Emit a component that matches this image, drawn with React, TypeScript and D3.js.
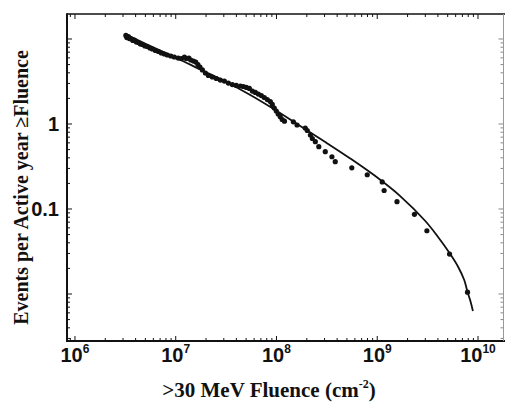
import React from "react";
import * as d3 from "d3";

// Observed events (fluence, events per active year >= fluence)
const fluence = [
  3.2e6, 3.27e6, 3.39e6, 3.47e6, 3.63e6, 3.76e6, 3.89e6, 4.07e6, 4.26e6, 4.46e6,
  4.67e6, 4.94e6, 5.23e6, 5.54e6, 5.86e6, 6.28e6, 6.73e6, 7.2e6, 7.71e6, 8.26e6,
  8.95e6, 9.69e6, 1.06e7, 1.14e7, 1.22e7, 1.27e7, 1.35e7, 1.41e7, 1.5e7, 1.58e7,
  1.66e7, 1.74e7, 1.84e7, 1.97e7, 2.11e7, 2.31e7, 2.53e7, 2.77e7, 3.04e7, 3.33e7,
  3.65e7, 3.99e7, 4.38e7, 4.69e7, 5.02e7, 5.38e7, 5.76e7, 6.17e7, 6.6e7, 7.07e7,
  7.57e7, 8.11e7, 8.69e7, 9.09e7, 9.51e7, 9.96e7, 1.04e8, 1.09e8, 1.14e8, 1.2e8,
  1.47e8, 1.6e8, 1.93e8, 2.02e8, 2.17e8, 2.27e8, 2.43e8, 2.63e8, 3.05e8, 3.55e8,
  3.83e8, 5.59e8, 7.96e8, 1.12e9, 1.17e9, 1.57e9, 2.34e9, 3.11e9, 5.22e9, 7.87e9,
];
const rate = [
  11.0, 10.4, 10.7, 10.1, 10.0, 9.6, 9.73, 9.22, 9.09, 8.73,
  8.61, 8.27, 8.16, 7.83, 7.62, 7.32, 7.13, 6.84, 6.66, 6.48,
  6.31, 6.14, 5.97, 5.89, 6.14, 5.89, 5.97, 5.66, 5.51, 5.36,
  5.01, 4.68, 4.32, 3.98, 3.72, 3.57, 3.43, 3.29, 3.2, 3.03,
  2.91, 2.84, 2.8, 2.76, 2.69, 2.62, 2.44, 2.35, 2.25, 2.16,
  2.05, 1.94, 1.84, 1.7, 1.54, 1.42, 1.31, 1.22, 1.13, 1.08,
  1.06, 0.973, 0.897, 0.838, 0.742, 0.675, 0.619, 0.541, 0.472, 0.412,
  0.36, 0.305, 0.253, 0.208, 0.165, 0.122, 0.0866, 0.0555, 0.0295, 0.0105,
];

// Fitted curve
const fitFluence = [
  3.16e6, 5.6e6, 9.92e6, 1.75e7, 3.11e7, 5.5e7, 9.73e7, 1.72e8, 3.05e8,
  5.4e8, 9.56e8, 1.69e9, 3.0e9, 3.98e9, 5.3e9, 6.36e9, 7.3e9, 7.87e9, 8.43e9, 8.9e9,
];
const fitRate = [
  11.45, 8.27, 6.06, 4.38, 3.16, 2.19, 1.46, 0.947, 0.614,
  0.393, 0.244, 0.142, 0.0722, 0.0475, 0.0295, 0.0208, 0.0146, 0.01055, 0.00816, 0.00631,
];

const xMajorExponents = [6, 7, 8, 9, 10];
const yTickValues = [1, 0.1];
const yTickLabels = ["1", "0.1"];
const xTitleMain = ">30 MeV Fluence (cm";
const xTitleSup = "-2";
const xTitleEnd = ")";
const yTitle = "Events per Active year \u2265Fluence";

const W = 505;
const H = 404;
const left = 67;
const right = 503.5;
const top = 14;
const bottom = 341;

export default function App() {
  const x = d3.scaleLog().domain([Math.pow(10, 5.921), Math.pow(10, 10.253)]).range([left, right]);
  const y = d3.scaleLog().domain([Math.pow(10, 1.294), Math.pow(10, -2.553)]).range([top, bottom]);

  const xTicks = x.ticks();
  const yTicks = y.ticks();
  const isMajor = (v: number) => Math.abs(Math.log10(v) - Math.round(Math.log10(v))) < 1e-6;

  const line = d3
    .line<number>()
    .x((_, i) => x(fitFluence[i]))
    .y((_, i) => y(fitRate[i]))
    .curve(d3.curveCatmullRom.alpha(0.5));

  const sans = "'Liberation Sans', Arial, sans-serif";
  const serif = "'Liberation Serif', 'Times New Roman', serif";

  return (
    <svg width={W} height={H} style={{ position: "absolute", left: 0, top: 0, background: "#fff" }}>
      <rect x={0} y={0} width={W} height={H} fill="#fff" />
      {/* ticks bottom & top */}
      {xTicks.map((t, i) => {
        const px = x(t);
        const len = isMajor(t) ? 5 : 3;
        return (
          <g key={"xt" + i} stroke="#111" strokeWidth={1}>
            <line x1={px} x2={px} y1={bottom} y2={bottom - len} />
            <line x1={px} x2={px} y1={top} y2={top + len} />
          </g>
        );
      })}
      {yTicks.map((t, i) => {
        const py = y(t);
        const len = isMajor(t) ? 5 : 3;
        return (
          <g key={"yt" + i} stroke="#111" strokeWidth={1}>
            <line x1={left} x2={left + len} y1={py} y2={py} />
            <line x1={right} x2={right - len} y1={py} y2={py} stroke="#888" />
          </g>
        );
      })}
      {/* frame */}
      <line x1={left} x2={W} y1={top} y2={top} stroke="#111" strokeWidth={1.6} />
      <line x1={left} x2={W} y1={bottom} y2={bottom} stroke="#111" strokeWidth={2} />
      <line x1={left} x2={left} y1={top - 0.8} y2={bottom + 1} stroke="#111" strokeWidth={2} />
      <line x1={right} x2={right} y1={top} y2={bottom} stroke="#999" strokeWidth={1} />

      {/* fit line */}
      <path d={line(fitFluence) || ""} fill="none" stroke="#111" strokeWidth={1.8} />

      {/* data points */}
      {fluence.map((f, i) => (
        <circle key={"p" + i} cx={x(f)} cy={y(rate[i])} r={2.6} fill="#111" />
      ))}

      {/* x tick labels */}
      {xMajorExponents.map((e) => (
        <text
          key={"xl" + e}
          x={x(Math.pow(10, e))}
          y={362}
          textAnchor="middle"
          fontFamily={sans}
          fontWeight="bold"
          fontSize={20}
          fill="#111"
        >
          10
          <tspan fontSize={12} dy={-9}>
            {e}
          </tspan>
        </text>
      ))}

      {/* y tick labels */}
      {yTickValues.map((v, i) => (
        <text
          key={"yl" + i}
          x={59}
          y={y(v)}
          dy="0.35em"
          textAnchor="end"
          fontFamily={sans}
          fontWeight="bold"
          fontSize={20}
          fill="#111"
        >
          {yTickLabels[i]}
        </text>
      ))}

      {/* axis titles */}
      <text x={269} y={397} textAnchor="middle" fontFamily={serif} fontWeight="bold" fontSize={21} fill="#111">
        {xTitleMain}
        <tspan fontSize={12} dy={-9}>
          {xTitleSup}
        </tspan>
        <tspan dy={9}>{xTitleEnd}</tspan>
      </text>
      <text
        transform={`translate(28,187.5) rotate(-90)`}
        textAnchor="middle"
        fontFamily={serif}
        fontWeight="bold"
        fontSize={20}
        fill="#111"
      >
        {yTitle}
      </text>
    </svg>
  );
}
